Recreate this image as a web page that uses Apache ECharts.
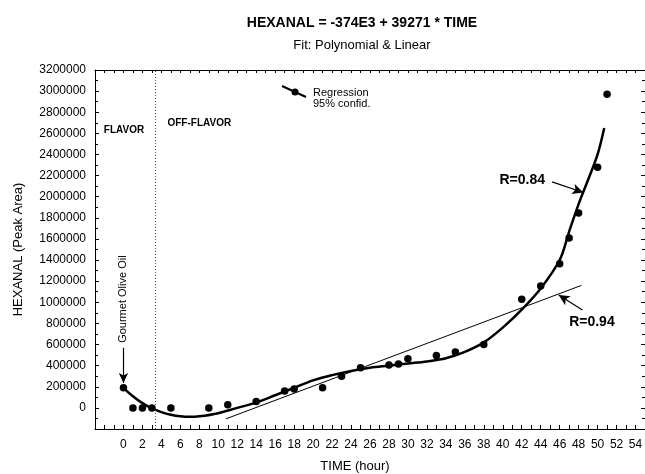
<!DOCTYPE html>
<html><head><meta charset="utf-8">
<script src="https://cdn.jsdelivr.net/npm/echarts@6/dist/echarts.min.js"></script>
<style>html,body{margin:0;padding:0;background:#fff}#c{width:645px;height:474px}</style>
</head><body><div id="c"></div>
<script>
// Measured samples (TIME in hours, HEXANAL peak area)
const timePoints    = [0, 1, 2, 3, 5, 9, 11, 14, 17, 18, 21, 23, 25, 28, 29, 30, 33, 35, 38, 42, 44, 46, 47, 48, 50, 51];
const hexanalPoints = [190000, 0, 0, 0, 0, 0, 30000, 60000, 160000, 180000, 190000, 300000, 380000, 405000, 415000, 465000, 495000, 530000, 600000, 1030000, 1155000, 1365000, 1610000, 1845000, 2280000, 2970000];
// Polynomial fit curve
const curveTime    = [0, 1, 2, 3, 4, 5, 6, 7, 8, 10, 12, 14, 16, 18, 20, 22, 24, 26, 28, 30, 32, 34, 36, 38, 40, 42, 44, 46, 47, 48, 49, 50, 50.7];
const curveHexanal = [190000, 110000, 45000, -5000, -40000, -65000, -80000, -85000, -80000, -50000, 0, 50000, 120000, 190000, 260000, 310000, 350000, 380000, 400000, 420000, 440000, 470000, 530000, 620000, 760000, 930000, 1130000, 1400000, 1670000, 1930000, 2160000, 2400000, 2650000];
// Linear fit line (as drawn)
const linTime    = [10.8, 48.3];
const linHexanal = [-104000, 1160000];
// Annotations
const flavorBoundary = 3.33;
const xTicksLabelStep = 2;

const FONT = "'Liberation Sans', Arial, sans-serif";
const chart = echarts.init(document.getElementById('c'), null, {renderer: 'canvas'});

const pts = timePoints.map((t, i) => [t, hexanalPoints[i]]);
const curve = curveTime.map((t, i) => [t, curveHexanal[i]]);
const lin = linTime.map((t, i) => [t, linHexanal[i]]);

const axisCommon = {
  axisLine: {show: true, onZero: false, lineStyle: {color: '#000', width: 1}},
  splitLine: {show: false},
};

chart.setOption({
  animation: false,
  backgroundColor: '#fff',
  textStyle: {fontFamily: FONT},
  title: [
    {text: 'HEXANAL = -374E3 + 39271 * TIME', left: 357, top: 11, textAlign: 'center',
     textStyle: {fontSize: 14, fontWeight: 'bold', color: '#000', fontFamily: FONT}},
    {text: 'Fit: Polynomial & Linear', left: 357, top: 34, textAlign: 'center',
     textStyle: {fontSize: 13, fontWeight: 'normal', color: '#000', fontFamily: FONT}}
  ],
  grid: {left: 95, right: 0, top: 70, bottom: 45, containLabel: false, outerBoundsMode: 'none'},
  xAxis: [
    Object.assign({}, axisCommon, {
      type: 'value', min: -3, max: 55, interval: 1, position: 'bottom',
      axisTick: {show: true, inside: true, length: 4, lineStyle: {color: '#000'}},
      axisLabel: {show: true, interval: 0, margin: 10, fontSize: 12, color: '#000', fontFamily: FONT,
        formatter: v => (v >= 0 && v % xTicksLabelStep === 0) ? String(v) : ''},
      name: 'TIME (hour)', nameLocation: 'middle', nameGap: 31,
      nameTextStyle: {fontSize: 13, color: '#000', fontFamily: FONT, padding: [0, 30, 0, 0]}
    }),
    Object.assign({}, axisCommon, {
      type: 'value', min: -3, max: 55, interval: 1, position: 'top',
      axisTick: {show: true, inside: true, length: 3, lineStyle: {color: '#000'}},
      axisLabel: {show: false}
    })
  ],
  yAxis: [
    Object.assign({}, axisCommon, {
      type: 'value', min: -200000, max: 3200000, interval: 200000, position: 'left',
      axisTick: {show: true, inside: true, length: 4, lineStyle: {color: '#000'}},
      minorTick: {show: true, splitNumber: 2, length: 3, lineStyle: {color: '#000'}},
      axisLabel: {show: true, margin: 9, fontSize: 12, color: '#000', fontFamily: FONT,
        formatter: v => v < 0 ? '' : String(v)},
      name: 'HEXANAL (Peak Area)', nameLocation: 'middle', nameGap: 70,
      nameTextStyle: {fontSize: 13, color: '#000', fontFamily: FONT}
    }),
    Object.assign({}, axisCommon, {
      type: 'value', min: -200000, max: 3200000, interval: 200000, position: 'right',
      axisTick: {show: true, inside: true, length: 4, lineStyle: {color: '#000'}},
      minorTick: {show: true, splitNumber: 2, length: 3, lineStyle: {color: '#000'}},
      axisLabel: {show: false}
    })
  ],
  series: [
    {
      name: 'Polynomial', type: 'line', data: curve, smooth: 0.35, showSymbol: false,
      lineStyle: {color: '#000', width: 2.5}, z: 3
    },
    {
      name: 'Linear', type: 'line', data: lin, showSymbol: false,
      lineStyle: {color: '#000', width: 1}, z: 2,
      markLine: {
        silent: true, animation: false, label: {show: false},
        symbol: ['none', 'none'],
        data: [
          [{coord: [flavorBoundary, -200000], lineStyle: {color: '#444', width: 1, type: [1, 2]}, symbol: 'none'},
           {coord: [flavorBoundary, 3200000], symbol: 'none'}],
          [{coord: [0, 570000], lineStyle: {color: '#000', width: 1.2, type: 'solid'}, symbol: 'none'},
           {coord: [0, 236000], symbol: 'arrow', symbolSize: [7, 10]}],
          [{coord: [45.2, 2140000], lineStyle: {color: '#000', width: 1.2, type: 'solid'}, symbol: 'none'},
           {coord: [48.5, 2040000], symbol: 'arrow', symbolSize: [8, 11]}],
          [{coord: [48.4, 928000], lineStyle: {color: '#000', width: 1.2, type: 'solid'}, symbol: 'none'},
           {coord: [45.9, 1070000], symbol: 'arrow', symbolSize: [8, 11]}]
        ]
      }
    },
    {
      name: 'Data', type: 'scatter', data: pts, symbol: 'circle', symbolSize: 7.5,
      itemStyle: {color: '#000', opacity: 1}, z: 4
    }
  ]
});

function px(x, y) { return chart.convertToPixel({xAxisIndex: 0, yAxisIndex: 0}, [x, y]); }
const p084 = px(42.05, 2160000);
const p094 = px(49.4, 810000);
const pOil = px(0, 1030000);
const pFl  = px(0.06, 2630000);
const pOff = px(8.0, 2700000);

chart.setOption({
  graphic: [
    {type: 'text', x: p084[0], y: p084[1], style: {text: 'R=0.84', font: 'bold 14px ' + FONT, fill: '#000', align: 'center', verticalAlign: 'middle'}},
    {type: 'text', x: p094[0], y: p094[1], style: {text: 'R=0.94', font: 'bold 14px ' + FONT, fill: '#000', align: 'center', verticalAlign: 'middle'}},
    {type: 'text', x: pOil[0], y: pOil[1], rotation: Math.PI / 2, style: {text: 'Gourmet Olive Oil', font: '11px ' + FONT, fill: '#000', align: 'center', verticalAlign: 'middle'}},
    {type: 'text', x: pFl[0], y: pFl[1], style: {text: 'FLAVOR', font: 'bold 10px ' + FONT, fill: '#000', align: 'center', verticalAlign: 'middle'}},
    {type: 'text', x: pOff[0], y: pOff[1], style: {text: 'OFF-FLAVOR', font: 'bold 10px ' + FONT, fill: '#000', align: 'center', verticalAlign: 'middle'}},
    // legend
    {type: 'line', shape: {x1: 282, y1: 86, x2: 306, y2: 97}, style: {stroke: '#000', lineWidth: 2}},
    {type: 'circle', shape: {cx: 295, cy: 92, r: 3.5}, style: {fill: '#000'}},
    {type: 'text', x: 313, y: 93, style: {text: 'Regression', font: '11px ' + FONT, fill: '#000', verticalAlign: 'middle'}},
    {type: 'text', x: 313, y: 104, style: {text: '95% confid.', font: '11px ' + FONT, fill: '#000', verticalAlign: 'middle'}}
  ]
});
</script>
</body></html>
